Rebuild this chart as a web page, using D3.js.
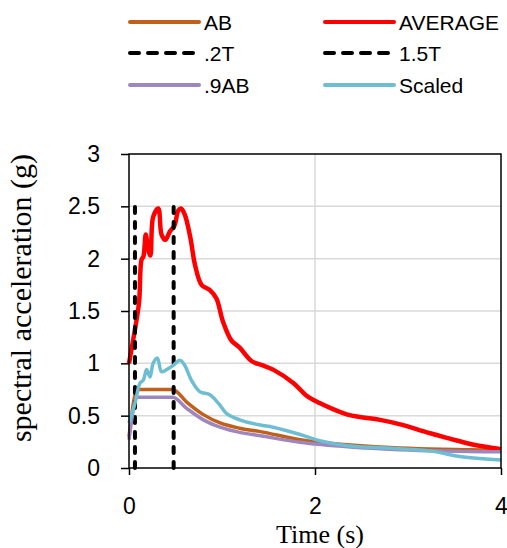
<!DOCTYPE html>
<html>
<head>
<meta charset="utf-8">
<script src="https://cdn.jsdelivr.net/npm/d3@7"></script>
<style>
  body { margin: 0; background: #fff; }
  svg { display: block; }
</style>
</head>
<body>
<svg></svg>
<script>
// values
var abT   = [0, 0.09, 0.47, 0.62, 0.8, 0.98, 1.19, 1.4, 1.84, 2.38, 2.91, 4.0];
var abV   = [0.30, 0.75, 0.75, 0.63, 0.51, 0.43, 0.38, 0.35, 0.27, 0.22, 0.19, 0.17];
var ab9V  = [0.27, 0.675, 0.675, 0.57, 0.46, 0.39, 0.34, 0.31, 0.245, 0.20, 0.175, 0.155];

var avgT = [0, 0.04, 0.086, 0.11, 0.135, 0.155, 0.18, 0.205, 0.23, 0.26, 0.315, 0.35, 0.39, 0.44, 0.49, 0.53, 0.56, 0.60, 0.66, 0.71, 0.78, 0.87, 0.94, 1.01, 1.10, 1.19, 1.32, 1.44, 1.55, 1.77, 1.91, 2.05, 2.2, 2.35, 2.5, 2.70, 2.95, 3.13, 3.31, 3.49, 3.67, 3.85, 4.0];
var avgV = [1.0, 1.2, 1.44, 1.6, 1.99, 2.02, 2.23, 2.1, 2.03, 2.40, 2.48, 2.23, 2.18, 2.26, 2.32, 2.46, 2.48, 2.42, 2.2, 1.94, 1.75, 1.70, 1.62, 1.40, 1.22, 1.15, 1.02, 0.98, 0.94, 0.81, 0.69, 0.62, 0.56, 0.51, 0.485, 0.46, 0.41, 0.36, 0.315, 0.27, 0.23, 0.20, 0.18];

var scT = [0, 0.065, 0.118, 0.154, 0.19, 0.226, 0.26, 0.305, 0.35, 0.405, 0.476, 0.548, 0.60, 0.67, 0.76, 0.87, 0.96, 1.05, 1.19, 1.41, 1.55, 1.84, 2.05, 2.38, 2.91, 3.27, 3.52, 4.0];
var scV = [0.43, 0.62, 0.81, 0.84, 0.94, 0.87, 1.0, 1.05, 0.92, 0.94, 0.98, 1.03, 0.98, 0.84, 0.73, 0.70, 0.62, 0.52, 0.46, 0.41, 0.39, 0.32, 0.26, 0.21, 0.185, 0.16, 0.115, 0.077];

var t02 = 0.064, t15 = 0.48, dashTop = 2.5;

var xTicks = [0, 2, 4];
var yTicks = [0, 0.5, 1, 1.5, 2, 2.5, 3];

var W = 507, H = 548;
var pLeft = 129, pRight = 501, pTop = 154, pBottom = 468;

var svg = d3.select("svg").attr("width", W).attr("height", H);

var x = d3.scaleLinear().domain([0, 4]).range([pLeft, pRight]);
var y = d3.scaleLinear().domain([0, 3]).range([pBottom, pTop]);

// grid
svg.append("g").selectAll("line")
    .data(yTicks.filter(function(d){ return d > 0 && d < 3; }))
    .enter().append("line")
    .attr("x1", pLeft).attr("x2", pRight)
    .attr("y1", function(d){ return y(d); }).attr("y2", function(d){ return y(d); })
    .attr("stroke", "#d9d9d9").attr("stroke-width", 1.5);
svg.append("g").selectAll("line")
    .data(xTicks.filter(function(d){ return d > 0 && d < 4; }))
    .enter().append("line")
    .attr("y1", pTop).attr("y2", pBottom)
    .attr("x1", function(d){ return x(d); }).attr("x2", function(d){ return x(d); })
    .attr("stroke", "#d9d9d9").attr("stroke-width", 1.5);

// axes
var font = "'Liberation Sans', Arial, sans-serif";
var xAxis = svg.append("g").attr("transform", "translate(0," + pBottom + ")")
    .call(d3.axisBottom(x).tickValues(xTicks).tickSize(7).tickPadding(23).tickSizeOuter(0)
        .tickFormat(function(d){ return String(d); }));
var yAxis = svg.append("g").attr("transform", "translate(" + pLeft + ",0)")
    .call(d3.axisLeft(y).tickValues(yTicks).tickSize(8).tickPadding(21).tickSizeOuter(0)
        .tickFormat(function(d){ return String(d); }));
[xAxis, yAxis].forEach(function(a){
  a.select(".domain").remove();
  a.selectAll("line").attr("stroke", "#000").attr("stroke-width", 1.5);
  a.selectAll("text").attr("fill", "#000").style("font-family", font).style("font-size", "23px");
});

// series
function pts(ts, vs){ return ts.map(function(t, i){ return [t, vs[i]]; }); }
var smooth = d3.line().x(function(d){ return x(d[0]); }).y(function(d){ return y(d[1]); })
    .curve(d3.curveCatmullRom.alpha(0.5));
var mono = d3.line().x(function(d){ return x(d[0]); }).y(function(d){ return y(d[1]); })
    .curve(d3.curveMonotoneX);

var series = [
  {name: "AB", color: "#c0601a", w: 3.5, d: mono(pts(abT, abV))},
  {name: "AVERAGE", color: "#ff0000", w: 4.5, d: smooth(pts(avgT, avgV))},
  {name: ".2T", color: "#000", w: 4, dash: true, d: d3.line()([[x(t02), y(0)], [x(t02), y(dashTop)]])},
  {name: "1.5T", color: "#000", w: 4, dash: true, d: d3.line()([[x(t15), y(0)], [x(t15), y(dashTop)]])},
  {name: ".9AB", color: "#9e86bf", w: 3.5, d: mono(pts(abT, ab9V))},
  {name: "Scaled", color: "#6dbed3", w: 3.5, d: smooth(pts(scT, scV))}
];

series.forEach(function(s){
  svg.append("path").attr("d", s.d).attr("fill", "none")
     .attr("stroke", s.color).attr("stroke-width", s.w)
     .attr("stroke-linejoin", "round")
     .attr("stroke-linecap", s.dash ? "round" : "butt")
     .attr("stroke-dasharray", s.dash ? "6,9" : null);
});

// plot frame
svg.append("rect").attr("x", pLeft).attr("y", pTop)
   .attr("width", pRight - pLeft).attr("height", pBottom - pTop)
   .attr("fill", "none").attr("stroke", "#000").attr("stroke-width", 1.5);

// titles
svg.append("text").attr("x", 320).attr("y", 543).attr("text-anchor", "middle")
   .style("font-family", "'Liberation Serif', 'Times New Roman', serif").style("font-size", "26px")
   .text("Time (s)");
svg.append("text").attr("transform", "translate(31,298) rotate(-90)").attr("text-anchor", "middle")
   .style("font-family", "'Liberation Serif', 'Times New Roman', serif").style("font-size", "30px")
   .text("spectral acceleration (g)");

// legend
var lx = [130, 325], ly = [22, 53, 85];
var leg = svg.append("g");
series.forEach(function(s, i){
  var cx = lx[i % 2], cy = ly[Math.floor(i / 2)];
  leg.append("line").attr("x1", cx).attr("x2", cx + 69).attr("y1", cy).attr("y2", cy)
     .attr("stroke", s.color).attr("stroke-width", 4)
     .attr("stroke-linecap", "round")
     .attr("stroke-dasharray", s.dash ? "9,9" : null);
  leg.append("text").attr("x", cx + 74).attr("y", cy).attr("dy", "0.36em")
     .style("font-family", font).style("font-size", "21px").text(s.name);
});
</script>
</body>
</html>
